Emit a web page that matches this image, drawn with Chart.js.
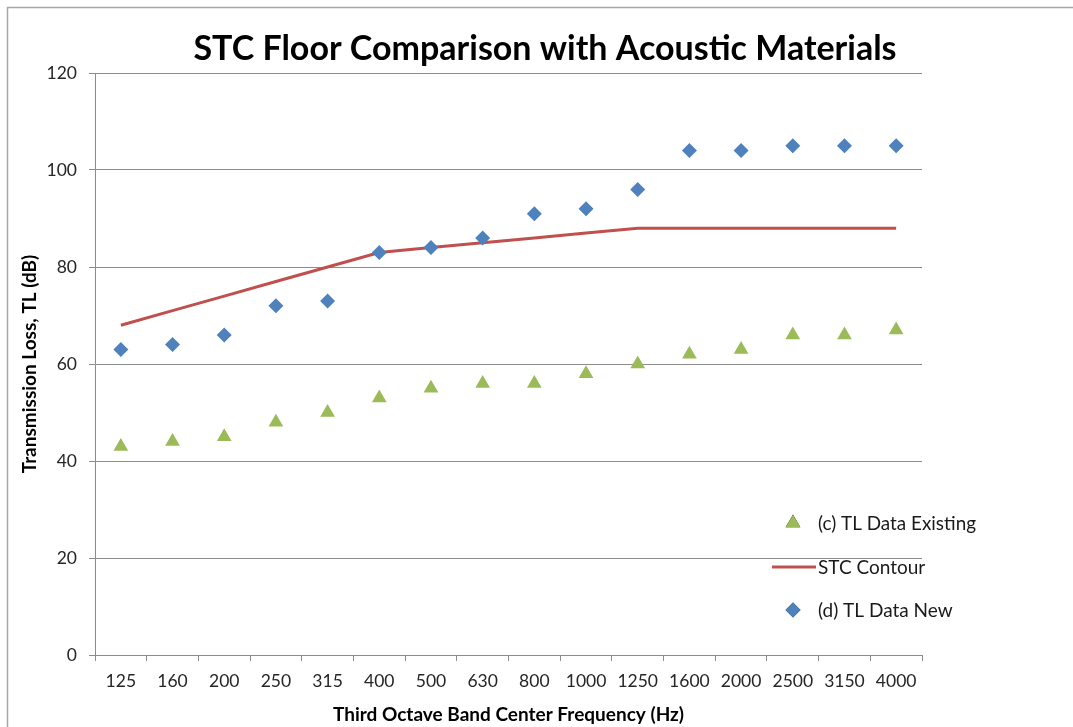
<!DOCTYPE html>
<html>
<head>
<meta charset="utf-8">
<title>STC Floor Comparison with Acoustic Materials</title>
<script src="https://cdn.jsdelivr.net/npm/chart.js@4.4.1/dist/chart.umd.min.js"></script>
<style>
    html, body { margin: 0; padding: 0; background: #fff; }
    #wrap { width: 1073px; height: 727px; position: relative; }
</style>
</head>
<body>
<div id="wrap"><canvas id="stcChart" width="1073" height="727"></canvas></div>
<script>
// Dati
const frequencies = ['125', '160', '200', '250', '315', '400', '500', '630', '800', '1000', '1250', '1600', '2000', '2500', '3150', '4000'];
const tlExisting = [43, 44, 45, 48, 50, 53, 55, 56, 56, 58, 60, 62, 63, 66, 66, 67];
const stcContour = [68, 71, 74, 77, 80, 83, 84, 85, 86, 87, 88, 88, 88, 88, 88, 88];
const tlNew = [63, 64, 66, 72, 73, 83, 84, 86, 91, 92, 96, 104, 104, 105, 105, 105];
const yTicks = [0, 20, 40, 60, 80, 100, 120];

const chartTitle = 'STC Floor Comparison with Acoustic Materials';
const xTitle = 'Third Octave Band Center Frequency (Hz)';
const yTitle = 'Transmission Loss, TL (dB)';

const FONT = 'Lato, "Open Sans", sans-serif';
const GRID = '#8c8c8c';
const GREEN = '#9bbb59';
const RED = '#c0504d';
const BLUE = '#4f81bd';

// Testi, cornice e legenda disegnati a mano
const decorations = {
    id: 'decorations',
    beforeDraw(chart) {
        const ctx = chart.ctx;
        ctx.save();
        ctx.fillStyle = '#fff';
        ctx.fillRect(0, 0, chart.width, chart.height);
        ctx.strokeStyle = '#a6a6a6';
        ctx.lineWidth = 1.5;
        ctx.strokeRect(7.5, 7.5, chart.width + 20, chart.height + 20);
        ctx.restore();
    },
    afterDraw(chart) {
        const ctx = chart.ctx;
        const area = chart.chartArea;
        ctx.save();
        ctx.fillStyle = '#000';
        ctx.textAlign = 'center';
        ctx.textBaseline = 'alphabetic';

        ctx.font = `bold 34px ${FONT}`;
        ctx.fillText(chartTitle, 545, 60, 712);

        ctx.font = `bold 19px ${FONT}`;
        ctx.fillText(xTitle, (area.left + area.right) / 2, 721, 360);

        ctx.save();
        ctx.translate(36, (area.top + area.bottom) / 2);
        ctx.rotate(-Math.PI / 2);
        ctx.fillText(yTitle, 0, 0, 224);
        ctx.restore();

        // Legenda
        const items = [
            { label: '(c) TL Data Existing', ds: 0, y: 523 },
            { label: 'STC Contour', ds: 1, y: 567 },
            { label: '(d) TL Data New', ds: 2, y: 610 }
        ];
        ctx.font = `19px ${FONT}`;
        ctx.textAlign = 'left';
        ctx.textBaseline = 'middle';
        items.forEach(item => {
            const ds = chart.data.datasets[item.ds];
            if (ds.showLine) {
                ctx.strokeStyle = ds.borderColor;
                ctx.lineWidth = ds.borderWidth;
                ctx.beginPath();
                ctx.moveTo(772, item.y);
                ctx.lineTo(816, item.y);
                ctx.stroke();
            } else {
                Chart.helpers.drawPoint(ctx, {
                    pointStyle: ds.pointStyle,
                    radius: ds.pointRadius,
                    rotation: 0,
                    borderWidth: 0
                }, 793, item.y);
                ctx.fillStyle = ds.backgroundColor;
                ctx.fill();
            }
            ctx.fillStyle = '#1a1a1a';
            ctx.fillText(item.label, 818, item.y + 1, 158);
        });
        ctx.restore();
    }
};

const ctx = document.getElementById('stcChart').getContext('2d');
new Chart(ctx, {
    type: 'line',
    data: {
        labels: frequencies,
        datasets: [
            {
                label: '(c) TL Data Existing',
                data: tlExisting,
                showLine: false,
                pointStyle: 'triangle',
                pointRadius: 8.5,
                pointHoverRadius: 8.5,
                backgroundColor: GREEN,
                borderColor: GREEN,
                pointBorderWidth: 0,
                order: 2
            },
            {
                label: 'STC Contour',
                data: stcContour,
                showLine: true,
                borderColor: RED,
                backgroundColor: RED,
                borderWidth: 3,
                pointRadius: 0,
                tension: 0,
                order: 3
            },
            {
                label: '(d) TL Data New',
                data: tlNew,
                showLine: false,
                pointStyle: 'rectRot',
                pointRadius: 7.5,
                pointHoverRadius: 7.5,
                backgroundColor: BLUE,
                borderColor: BLUE,
                pointBorderWidth: 0,
                order: 1
            }
        ]
    },
    options: {
        responsive: false,
        animation: false,
        layout: { padding: { left: 0, top: 73, right: 151, bottom: 0 } },
        plugins: {
            legend: { display: false },
            title: { display: false },
            tooltip: { enabled: false }
        },
        scales: {
            x: {
                type: 'category',
                offset: true,
                grid: {
                    offset: true,
                    drawOnChartArea: false,
                    drawTicks: true,
                    tickLength: 6,
                    color: GRID
                },
                border: { color: GRID, width: 1 },
                ticks: {
                    font: { family: FONT, size: 17.5 },
                    color: '#262626',
                    padding: 10,
                    maxRotation: 0,
                    autoSkip: false
                },
                afterFit: scale => { scale.height = 72; }
            },
            y: {
                min: 0,
                max: 120,
                afterBuildTicks: scale => { scale.ticks = yTicks.map(v => ({ value: v })); },
                grid: {
                    color: GRID,
                    tickLength: 6
                },
                border: { color: GRID, width: 1 },
                ticks: {
                    font: { family: FONT, size: 17.5 },
                    color: '#262626',
                    padding: 12
                },
                afterFit: scale => { scale.width = 95; }
            }
        }
    },
    plugins: [decorations]
});
</script>
</body>
</html>
